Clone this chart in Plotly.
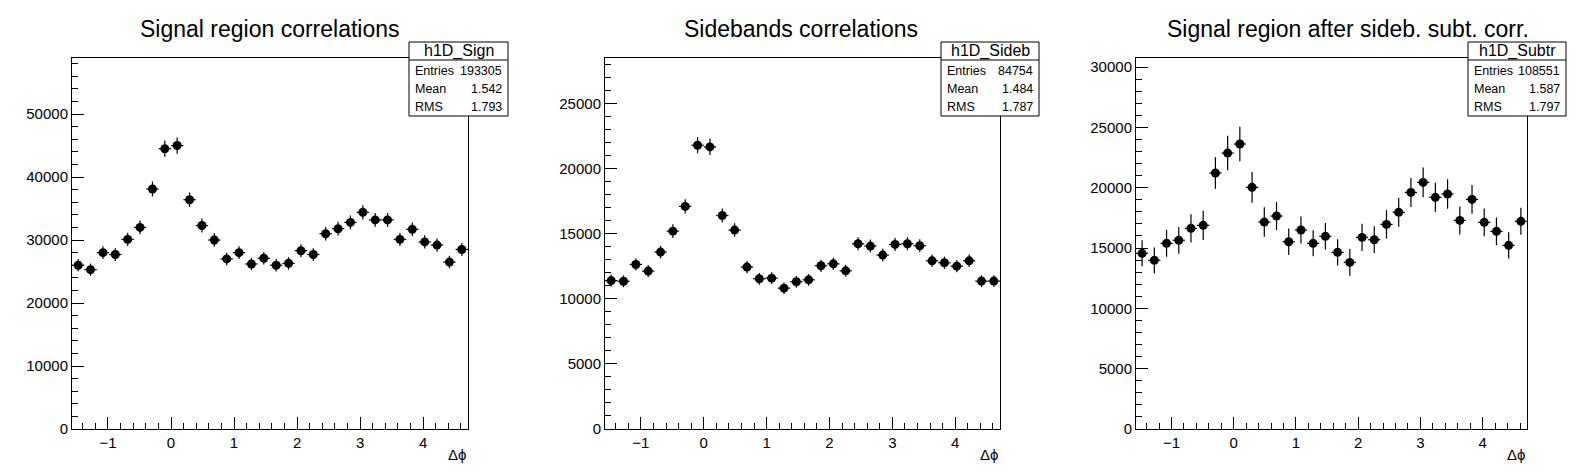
import numpy as np
import plotly.graph_objects as go

# ── Data ──────────────────────────────────────────────────────────────────
# binning: 32 bins in delta-phi from -pi/2 to 3pi/2
N_BINS = 32
PHI_LO = -np.pi / 2
PHI_HI = 3 * np.pi / 2

SIGN_VALS = [26000, 25300, 28000, 27700, 30100, 32000, 38100, 44500,
             45000, 36400, 32300, 30000, 27000, 28000, 26200, 27100,
             26000, 26300, 28300, 27700, 31000, 31800, 32800, 34400,
             33200, 33200, 30100, 31700, 29700, 29200, 26500, 28500]
SIGN_ERRS = [980, 970, 1020, 1010, 1060, 1090, 1190, 1290,
             1290, 1160, 1100, 1060, 1000, 1020, 990, 1000,
             980, 990, 1030, 1010, 1070, 1090, 1100, 1130,
             1110, 1110, 1060, 1090, 1050, 1040, 990, 1030]

SIDEB_VALS = [11400, 11350, 12640, 12130, 13590, 15200, 17100, 21800,
              21670, 16400, 15280, 12440, 11540, 11590, 10820, 11310,
              11460, 12540, 12690, 12150, 14230, 14050, 13360, 14180,
              14230, 14080, 12920, 12770, 12510, 12920, 11360, 11360]
SIDEB_ERRS = [450, 450, 470, 460, 490, 520, 550, 620,
              620, 540, 520, 470, 450, 450, 440, 450,
              450, 470, 470, 460, 500, 500, 490, 500,
              500, 500, 480, 470, 470, 480, 450, 450]

SUBTR_VALS = [14560, 13980, 15390, 15640, 16630, 16880, 21220, 22870,
              23620, 20030, 17150, 17650, 15520, 16490, 15390, 15970,
              14640, 13810, 15880, 15690, 16960, 17960, 19610, 20440,
              19200, 19480, 17290, 19030, 17130, 16380, 15220, 17210]
SUBTR_ERRS = [1080, 1070, 1120, 1110, 1170, 1210, 1310, 1430,
              1430, 1280, 1220, 1160, 1100, 1120, 1080, 1100,
              1080, 1100, 1130, 1110, 1180, 1200, 1200, 1240,
              1220, 1220, 1160, 1190, 1150, 1150, 1090, 1120]

TITLES = ["Signal region correlations", "Sidebands correlations",
          "Signal region after sideb. subt. corr."]
HIST_NAMES = ["h1D_Sign", "h1D_Sideb", "h1D_Subtr"]
ENTRIES = ["193305", "84754", "108551"]
MEANS = ["1.542", "1.484", "1.587"]
RMS = ["1.793", "1.787", "1.797"]
Y_MAX = [58900, 28500, 30750]
Y_DTICK = [10000, 5000, 5000]
Y_MINOR = [2000, 1000, 1000]

W, H = 1596, 472
FONT = "Liberation Sans, Arial, Helvetica, sans-serif"

# frame pixel positions (left, right) and stats box (left, right), title centre
FRAMES = [(64, 460), (597, 992), (1128, 1519)]
BOXES = [(401, 500), (933, 1031), (1460, 1558)]
TITLE_X = [262, 793, 1340]
FRAME_TOP, FRAME_BOT = 50, 421


def px(x):
    return x / W


def py(y):
    return 1 - y / H


edges = np.linspace(PHI_LO, PHI_HI, N_BINS + 1)
centers = 0.5 * (edges[:-1] + edges[1:])
half_bin = 0.5 * (edges[1] - edges[0])

fig = go.Figure()
annotations = []
shapes = []

series = [(SIGN_VALS, SIGN_ERRS), (SIDEB_VALS, SIDEB_ERRS), (SUBTR_VALS, SUBTR_ERRS)]

for i, (vals, errs) in enumerate(series):
    n = "" if i == 0 else str(i + 1)
    fig.add_trace(go.Scatter(
        x=centers, y=vals, mode="markers",
        marker=dict(symbol="circle", size=9, color="black"),
        error_y=dict(type="data", array=errs, color="black", thickness=1.2, width=0),
        error_x=dict(type="constant", value=half_bin, color="black", thickness=1.2, width=0),
        xaxis="x" + n, yaxis="y" + n, showlegend=False, hoverinfo="x+y",
    ))

    fl, fr = FRAMES[i]
    axis_common = dict(
        showline=True, mirror=True, linecolor="black", linewidth=1,
        showgrid=False, zeroline=False, ticks="inside", ticklen=12,
        tickcolor="black", tickwidth=1, automargin=False,
        tickfont=dict(family=FONT, size=15, color="black"),
    )
    fig.update_layout(**{
        "xaxis" + n: dict(
            domain=[px(fl), px(fr)], anchor="y" + n,
            range=[PHI_LO, PHI_HI], tick0=0, dtick=1,
            minor=dict(ticks="inside", ticklen=6, dtick=0.2, tick0=0,
                       tickcolor="black", showgrid=False),
            **axis_common,
        ),
        "yaxis" + n: dict(
            domain=[py(FRAME_BOT), py(FRAME_TOP)], anchor="x" + n,
            range=[0, Y_MAX[i]], tick0=0, dtick=Y_DTICK[i], tickformat="d",
            minor=dict(ticks="inside", ticklen=6, dtick=Y_MINOR[i], tick0=0,
                       tickcolor="black", showgrid=False),
            **axis_common,
        ),
    })

    # title
    annotations.append(dict(
        x=px(TITLE_X[i]), y=py(21), xref="paper", yref="paper",
        text=TITLES[i], showarrow=False, xanchor="center", yanchor="middle",
        font=dict(family=FONT, size=23, color="black"),
    ))
    # x axis label
    annotations.append(dict(
        x=px(fr), y=py(446), xref="paper", yref="paper",
        text="Δϕ", showarrow=False, xanchor="right", yanchor="middle",
        font=dict(family=FONT, size=15, color="black"),
    ))

    # stats box
    bl, br = BOXES[i]
    shapes.append(dict(
        type="rect", xref="paper", yref="paper",
        x0=px(bl), x1=px(br), y0=py(108), y1=py(34),
        line=dict(color="black", width=1), fillcolor="white", layer="above",
    ))
    shapes.append(dict(
        type="line", xref="paper", yref="paper",
        x0=px(bl), x1=px(br), y0=py(52), y1=py(52),
        line=dict(color="black", width=1), layer="above",
    ))
    annotations.append(dict(
        x=px((bl + br) / 2), y=py(43), xref="paper", yref="paper",
        text=HIST_NAMES[i], showarrow=False, xanchor="center", yanchor="middle",
        font=dict(family=FONT, size=16, color="black"),
    ))
    for label, value, yy in [("Entries", ENTRIES[i], 63), ("Mean", MEANS[i], 81),
                             ("RMS", RMS[i], 99)]:
        annotations.append(dict(
            x=px(bl + 4), y=py(yy), xref="paper", yref="paper",
            text=label, showarrow=False, xanchor="left", yanchor="middle",
            font=dict(family=FONT, size=12.5, color="black"),
        ))
        annotations.append(dict(
            x=px(br - 4), y=py(yy), xref="paper", yref="paper",
            text=value, showarrow=False, xanchor="right", yanchor="middle",
            font=dict(family=FONT, size=12.5, color="black"),
        ))

fig.update_layout(
    width=W, height=H,
    margin=dict(l=0, r=0, t=0, b=0),
    paper_bgcolor="white", plot_bgcolor="white",
    annotations=annotations, shapes=shapes,
    font=dict(family=FONT, color="black"),
)

fig.write_html("out.html")
